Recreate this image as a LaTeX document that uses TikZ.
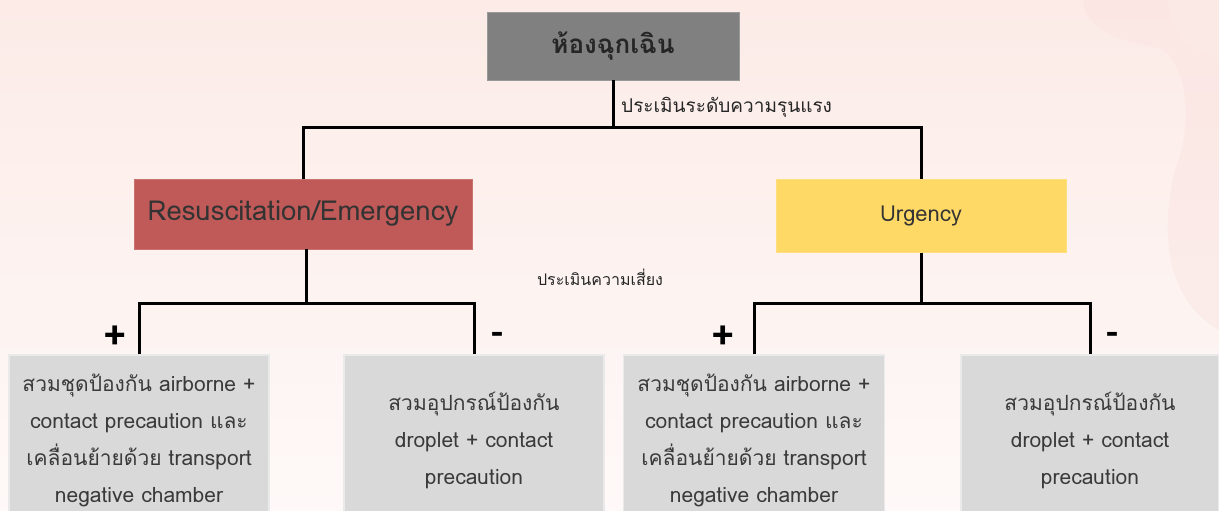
\documentclass[tikz,border=0pt]{standalone}
\usepackage{fontspec}
\setmainfont[Script=Thai]{Loma}
\definecolor{bgtop}{HTML}{FCEBE7}
\definecolor{bgbot}{HTML}{FEF9F8}
\definecolor{blobc}{HTML}{F9DCDA}
\definecolor{topgray}{HTML}{808080}
\definecolor{resred}{HTML}{C05A58}
\definecolor{urgyel}{HTML}{FFD966}
\definecolor{boxgray}{HTML}{D9D9D9}
\definecolor{boxedge}{HTML}{EAEAEA}
\definecolor{txt}{HTML}{3A3A3A}
\begin{document}
\begin{tikzpicture}[x=1pt,y=-1pt,
  conn/.style={line width=3pt, black},
  topbox/.style={fill=topgray, draw=topgray!80!white, minimum width=252pt, minimum height=68pt, inner sep=0pt,
    font=\fontsize{26}{30}\selectfont\bfseries, text=black!85},
  redbox/.style={fill=resred, draw=resred!85!white, minimum width=338pt, minimum height=70pt, inner sep=0pt,
    font=\fontsize{27.5}{30}\selectfont, text=black!80},
  yelbox/.style={fill=urgyel, draw=urgyel!85!white, minimum width=290pt, minimum height=73pt, inner sep=0pt,
    font=\fontsize{22}{26}\selectfont, text=black!80},
  leafbox/.style={fill=boxgray, draw=boxedge, line width=1.2pt, minimum height=170pt, inner sep=0pt,
    align=center, font=\fontsize{21}{37}\selectfont, text=txt},
  lbl/.style={text=black!85, inner sep=0pt},
  sign/.style={font=\fontsize{40}{42}\selectfont\bfseries, text=black, inner sep=0pt}]
\useasboundingbox (0,0) rectangle (1219,511);
\shade[top color=bgtop, bottom color=bgbot] (0,0) rectangle (1219,511);
% decorative background blobs
\fill[blobc, opacity=0.3] (1083,0) .. controls (1085,30) and (1120,42) .. (1160,48)
  .. controls (1185,60) and (1195,120) .. (1175,170)
  .. controls (1160,230) and (1165,300) .. (1219,330) -- (1219,0) -- cycle;
\fill[bgtop, opacity=0.7] (1219,0) -- (1168,0) .. controls (1170,30) and (1190,52) .. (1219,58) -- cycle;
\fill[blobc, opacity=0.3] (1020,252) .. controls (1030,230) and (1050,228) .. (1058,252) -- cycle;

% nodes
\node[topbox] (er) at (613,46) {ห้องฉุกเฉิน};
\node[redbox] (res) at (303,214) {Resuscitation/Emergency};
\node[yelbox] (urg) at (921,216) {Urgency};
\node[leafbox, minimum width=260pt] (b1) at (139,440) {สวมชุดป้องกัน airborne +\\contact precaution และ\\เคลื่อนย้ายด้วย transport\\negative chamber};
\node[leafbox, minimum width=260pt] (b2) at (474,440) {สวมอุปกรณ์ป้องกัน\\droplet + contact\\precaution};
\node[leafbox, minimum width=261pt] (b3) at (754,440) {สวมชุดป้องกัน airborne +\\contact precaution และ\\เคลื่อนย้ายด้วย transport\\negative chamber};
\node[leafbox, minimum width=258pt] (b4) at (1090,440) {สวมอุปกรณ์ป้องกัน\\droplet + contact\\precaution};

% junctions
\coordinate (j1) at (613,127);
\coordinate (j2) at (306,303);
\coordinate (j3) at (921,303);

% connectors
\draw[conn] (er.south) -- (j1);
\draw[conn] (res.north) -- (res.north |- j1) -- (urg.north |- j1) -- (urg.north);
\draw[conn] (j2 |- res.south) -- (j2);
\draw[conn] (b1.north) -- (b1.north |- j2) -- (b2.north |- j2) -- (b2.north);
\draw[conn] (urg.south) -- (j3);
\draw[conn] (b3.north) -- (b3.north |- j3) -- (b4.north |- j3) -- (b4.north);

% labels
\node[lbl, anchor=west, font=\fontsize{19}{22}\selectfont] (l1) at (621,107) {ประเมินระดับความรุนแรง};
\node[lbl, font=\fontsize{16}{20}\selectfont] (l2) at (600,277) {ประเมินความเสี่ยง};
\node[sign] (p1) at (115,338) {+};
\node[sign, font=\fontsize{36}{40}\selectfont\bfseries] (m1) at (497,338) {-};
\node[sign] (p2) at (723,338) {+};
\node[sign, font=\fontsize{36}{40}\selectfont\bfseries] (m2) at (1112,338) {-};
\end{tikzpicture}
\end{document}
